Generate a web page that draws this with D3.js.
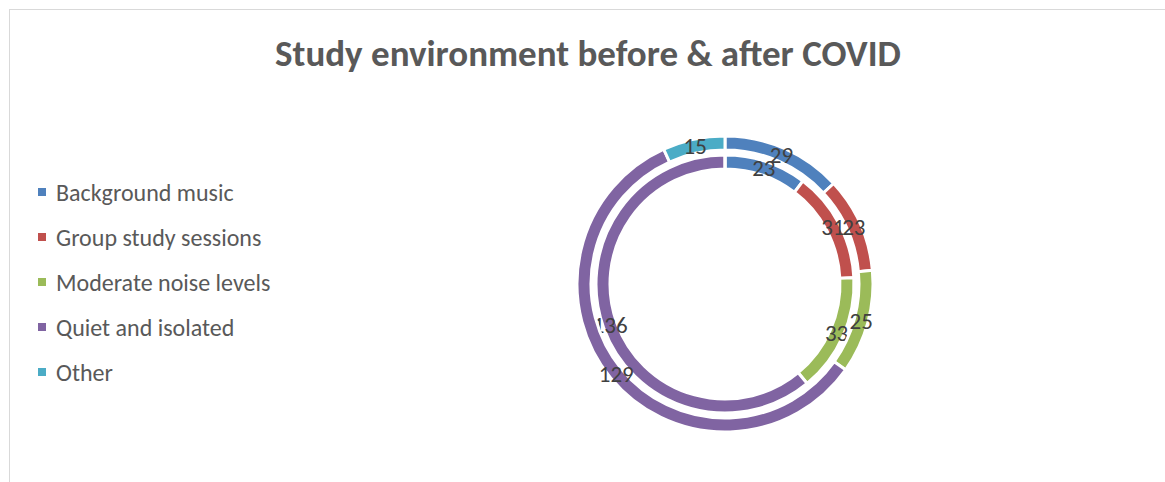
<!DOCTYPE html>
<html>
<head>
<meta charset="utf-8">
<script src="https://cdn.jsdelivr.net/npm/d3@7"></script>
<style>
  body { margin: 0; background: #fff; }
  svg { display: block; font-family: Carlito, Calibri, Lato, "Open Sans", sans-serif; }
</style>
</head>
<body>
<div id="chart"></div>
<script>
const categories = ['Background music', 'Group study sessions', 'Moderate noise levels', 'Quiet and isolated', 'Other'];
const before = [23, 31, 33, 136, 0];   // inner ring
const after = [29, 23, 25, 129, 15];   // outer ring
const colours = ['#4f81bd', '#c0504d', '#9bbb59', '#8064a2', '#4bacc6'];

const width = 1165, height = 482;
const cx = 725, cy = 284;

const svg = d3.select("#chart")
              .append("svg")
                .attr("width", width)
                .attr("height", height);

// chart border (right/bottom edges are cut off in the picture)
svg.append("rect")
   .attr("x", 9.5).attr("y", 9.5)
   .attr("width", width + 20).attr("height", height + 20)
   .attr("fill", "none")
   .attr("stroke", "#d9d9d9");

// Title
svg.append("text")
   .attr("x", 588)
   .attr("y", 53)
   .attr("text-anchor", "middle")
   .attr("dominant-baseline", "central")
   .style("font-size", "37px")
   .style("font-weight", "bold")
   .style("fill", "#595959")
   .text("Study environment before & after COVID");

const pie = d3.pie().sort(null).value(d => d);
const rings = [
  { values: before, inner: 115, outer: 129 },
  { values: after, inner: 134, outer: 148 }
];

const g = svg.append("g").attr("transform", `translate(${cx}, ${cy})`);

rings.forEach(ring => {
  const arc = d3.arc().innerRadius(ring.inner).outerRadius(ring.outer);
  const arcs = pie(ring.values);

  g.append("g")
   .selectAll("path")
   .data(arcs)
   .enter()
   .append("path")
     .attr("d", arc)
     .attr("fill", (d, i) => colours[i])
     .attr("stroke", "#fff")
     .attr("stroke-width", 3);

  // Data labels at the centroid of each segment
  g.append("g")
   .selectAll("text")
   .data(arcs.filter(d => d.value > 0))
   .enter()
   .append("text")
     .attr("transform", d => `translate(${arc.centroid(d)})`)
     .attr("text-anchor", "middle")
     .attr("dominant-baseline", "central")
     .style("font-size", "23px")
     .style("fill", "#404040")
     .text(d => d.value);
});

// Legend
const legend = svg.append("g");
const legendY = d3.scalePoint().domain(categories).range([192, 372]);

legend.selectAll("rect")
      .data(categories)
      .enter()
      .append("rect")
        .attr("x", 38)
        .attr("y", d => legendY(d) - 4)
        .attr("width", 8)
        .attr("height", 8)
        .attr("fill", (d, i) => colours[i]);

legend.selectAll("text")
      .data(categories)
      .enter()
      .append("text")
        .attr("x", 56)
        .attr("y", d => legendY(d))
        .attr("dominant-baseline", "central")
        .style("font-size", "24px")
        .style("fill", "#595959")
        .text(d => d);
</script>
</body>
</html>
